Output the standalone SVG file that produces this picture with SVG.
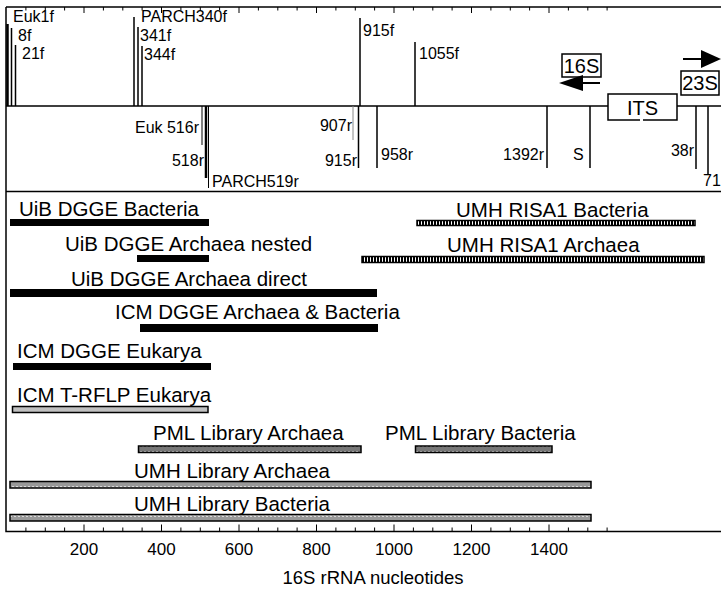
<svg xmlns="http://www.w3.org/2000/svg" width="721" height="589" viewBox="0 0 721 589">
<style>
text{font-family:"Liberation Sans",Arial,sans-serif;fill:#000}
.p{font-size:16px}
.b{font-size:20.5px}
.t{font-size:17px;text-anchor:middle}
.ln{stroke:#000;stroke-width:1.5;fill:none}
.thin{stroke:#000;stroke-width:1;fill:none}
.solid{fill:#000}
.gray{fill:#c0c0c0;stroke:#000;stroke-width:1.5}
.risa{fill:url(#stripes);stroke:#000;stroke-width:1.5}
.wave{fill:url(#waves);stroke:#000;stroke-width:1.5}
.wave2{fill:url(#waves2);stroke:#000;stroke-width:1.5}
.box{fill:#fff;stroke:#000;stroke-width:1.5}
</style>
<defs>
<pattern id="stripes" patternUnits="userSpaceOnUse" width="3" height="10">
<rect width="3" height="10" fill="#000"/>
<rect x="1" y="0" width="1" height="10" fill="#fff"/>
</pattern>
<pattern id="waves" patternUnits="userSpaceOnUse" width="4" height="7" y="1">
<rect width="4" height="7" fill="#777"/>
<path d="M0,3.5 q1,-2.5 2,0 t2,0" stroke="#fff" stroke-width="1" fill="none"/>
</pattern>
<pattern id="waves2" patternUnits="userSpaceOnUse" width="4" height="7" y="1">
<rect width="4" height="7" fill="#999"/>
<path d="M0,3.5 q1,-2.5 2,0 t2,0" stroke="#fff" stroke-width="1" fill="none"/>
</pattern>
</defs>

<g id="frame">
<path class="ln" d="M6,7 H721 M6,7 V531.5 H721 M6,106 H608 M677,106 H721 M6,191.5 H721"/>
<path class="thin" d="M25.9,7 v3.5 M45.3,7 v3.5 M64.6,7 v3.5 M84,7 v6 M103.4,7 v3.5 M122.8,7 v3.5 M142.1,7 v3.5 M161.5,7 v6 M180.9,7 v3.5 M200.3,7 v3.5 M219.6,7 v3.5 M239,7 v6 M258.4,7 v3.5 M277.8,7 v3.5 M297.1,7 v3.5 M316.5,7 v6 M335.9,7 v3.5 M355.3,7 v3.5 M374.6,7 v3.5 M394,7 v6 M413.4,7 v3.5 M432.8,7 v3.5 M452.1,7 v3.5 M471.5,7 v6 M490.9,7 v3.5 M510.3,7 v3.5 M529.6,7 v3.5 M549,7 v6 M568.4,7 v3.5 M587.8,7 v3.5 M607.1,7 v3.5"/>
<path class="thin" d="M25.9,531.5 v-4 M45.3,531.5 v-4 M64.6,531.5 v-4 M84,531.5 v-7 M103.4,531.5 v-4 M122.8,531.5 v-4 M142.1,531.5 v-4 M161.5,531.5 v-7 M180.9,531.5 v-4 M200.3,531.5 v-4 M219.6,531.5 v-4 M239,531.5 v-7 M258.4,531.5 v-4 M277.8,531.5 v-4 M297.1,531.5 v-4 M316.5,531.5 v-7 M335.9,531.5 v-4 M355.3,531.5 v-4 M374.6,531.5 v-4 M394,531.5 v-7 M413.4,531.5 v-4 M432.8,531.5 v-4 M452.1,531.5 v-4 M471.5,531.5 v-7 M490.9,531.5 v-4 M510.3,531.5 v-4 M529.6,531.5 v-4 M549,531.5 v-7 M568.4,531.5 v-4 M587.8,531.5 v-4 M607.1,531.5 v-4"/>
<text class="t" x="84" y="555">200</text>
<text class="t" x="161.5" y="555">400</text>
<text class="t" x="239" y="555">600</text>
<text class="t" x="316.5" y="555">800</text>
<text class="t" x="394" y="555">1000</text>
<text class="t" x="471.5" y="555">1200</text>
<text class="t" x="549" y="555">1400</text>
<text x="373" y="584" style="font-size:18.5px;text-anchor:middle">16S rRNA nucleotides</text>
</g>

<g id="genes">
<g id="its"><path class="box" d="M608,94 H677 V120 H608 Z"/><path d="M640,120 h3" stroke="#fff" stroke-width="2"/><text x="642.5" y="114.5" style="font-size:20px;text-anchor:middle">ITS</text></g>
<g id="s16"><rect class="box" x="562" y="54" width="39" height="23"/><text x="581.5" y="73" style="font-size:20px;text-anchor:middle">16S</text>
<path d="M600,83 H583" stroke="#000" stroke-width="2"/><path d="M583,75 L559,83 L583,91 Z"/></g>
<g id="s23"><rect class="box" x="681" y="71" width="38" height="24"/><text x="700" y="90" style="font-size:20px;text-anchor:middle">23S</text>
<path d="M683,59 H702" stroke="#000" stroke-width="2"/><path d="M701,50 L721,59 L701,68 Z"/></g>
</g>

<g id="connectors">
<path d="M7.5,24 V106" stroke="#000" stroke-width="2.5"/>
<path class="ln" d="M11.5,28 V106 M15.5,45 V106 M134,17 V106 M138,27 V106 M142,46 V106 M360,18 V106 M415,42 V106"/>
<path class="thin" d="M202,106 V145 M208.5,106 V188"/>
<path d="M206,106 V178" stroke="#000" stroke-width="2.5"/>
<path d="M353,106 V140" stroke="#888" stroke-width="1"/>
<path class="ln" d="M358.5,106 V168 M377,106 V168 M547,106 V168 M590,106 V168 M696,106 V169 M708,106 V175"/>
</g>

<g id="primers">
<text class="p" x="13" y="22">Euk1f</text>
<text class="p" x="18" y="40.5">8f</text>
<text class="p" x="22" y="58.5">21f</text>
<text class="p" x="141" y="22">PARCH340f</text>
<text class="p" x="140" y="40.5">341f</text>
<text class="p" x="144" y="59.5">344f</text>
<text class="p" x="363" y="36">915f</text>
<text class="p" x="419" y="58.5">1055f</text>
<text class="p" x="199" y="133" text-anchor="end">Euk 516r</text>
<text class="p" x="204" y="166" text-anchor="end">518r</text>
<text class="p" x="212" y="187">PARCH519r</text>
<text class="p" x="352" y="131" text-anchor="end">907r</text>
<text class="p" x="357" y="166" text-anchor="end">915r</text>
<text class="p" x="381" y="160">958r</text>
<text class="p" x="544" y="160" text-anchor="end">1392r</text>
<text class="p" x="573" y="160">S</text>
<text class="p" x="694" y="156" text-anchor="end">38r</text>
<text class="p" x="703" y="186">71</text>
</g>

<g id="uib-bacteria"><text class="b" x="19" y="216">UiB DGGE Bacteria</text><rect class="solid" x="10" y="219" width="199" height="7"/></g>
<g id="umh-risa-bacteria"><text class="b" x="456" y="217">UMH RISA1 Bacteria</text><rect class="risa" x="417" y="220.5" width="278" height="5"/></g>
<g id="uib-archaea-nested"><text class="b" x="65" y="251">UiB DGGE Archaea nested</text><rect class="solid" x="137" y="255" width="72" height="7"/></g>
<g id="umh-risa-archaea"><text class="b" x="447" y="252">UMH RISA1 Archaea</text><rect class="risa" x="362" y="256.5" width="342" height="6"/></g>
<g id="uib-archaea-direct"><text class="b" x="71" y="286">UiB DGGE Archaea direct</text><rect class="solid" x="10" y="289" width="367" height="8"/></g>
<g id="icm-archaea-bacteria"><text class="b" x="115" y="319">ICM DGGE Archaea &amp; Bacteria</text><rect class="solid" x="140" y="324" width="238" height="8"/></g>
<g id="icm-dgge-eukarya"><text class="b" x="17" y="358">ICM DGGE Eukarya</text><rect class="solid" x="13" y="363" width="198" height="7"/></g>
<g id="icm-trflp-eukarya"><text class="b" x="17" y="402">ICM T-RFLP Eukarya</text><rect class="gray" x="12.5" y="406.5" width="195.5" height="6"/></g>
<g id="pml-archaea"><text class="b" x="153" y="440">PML Library Archaea</text><rect class="wave" x="138.5" y="446" width="222.5" height="6.5"/></g>
<g id="pml-bacteria"><text class="b" x="385" y="440">PML Library Bacteria</text><rect class="wave" x="415.5" y="446" width="136.5" height="6.5"/></g>
<g id="umh-lib-archaea"><text class="b" x="134" y="478">UMH Library Archaea</text><rect class="wave2" x="10" y="481.5" width="581" height="6.5"/></g>
<g id="umh-lib-bacteria"><text class="b" x="134" y="511">UMH Library Bacteria</text><rect class="wave2" x="10" y="514.5" width="581" height="6.5"/></g>
</svg>
